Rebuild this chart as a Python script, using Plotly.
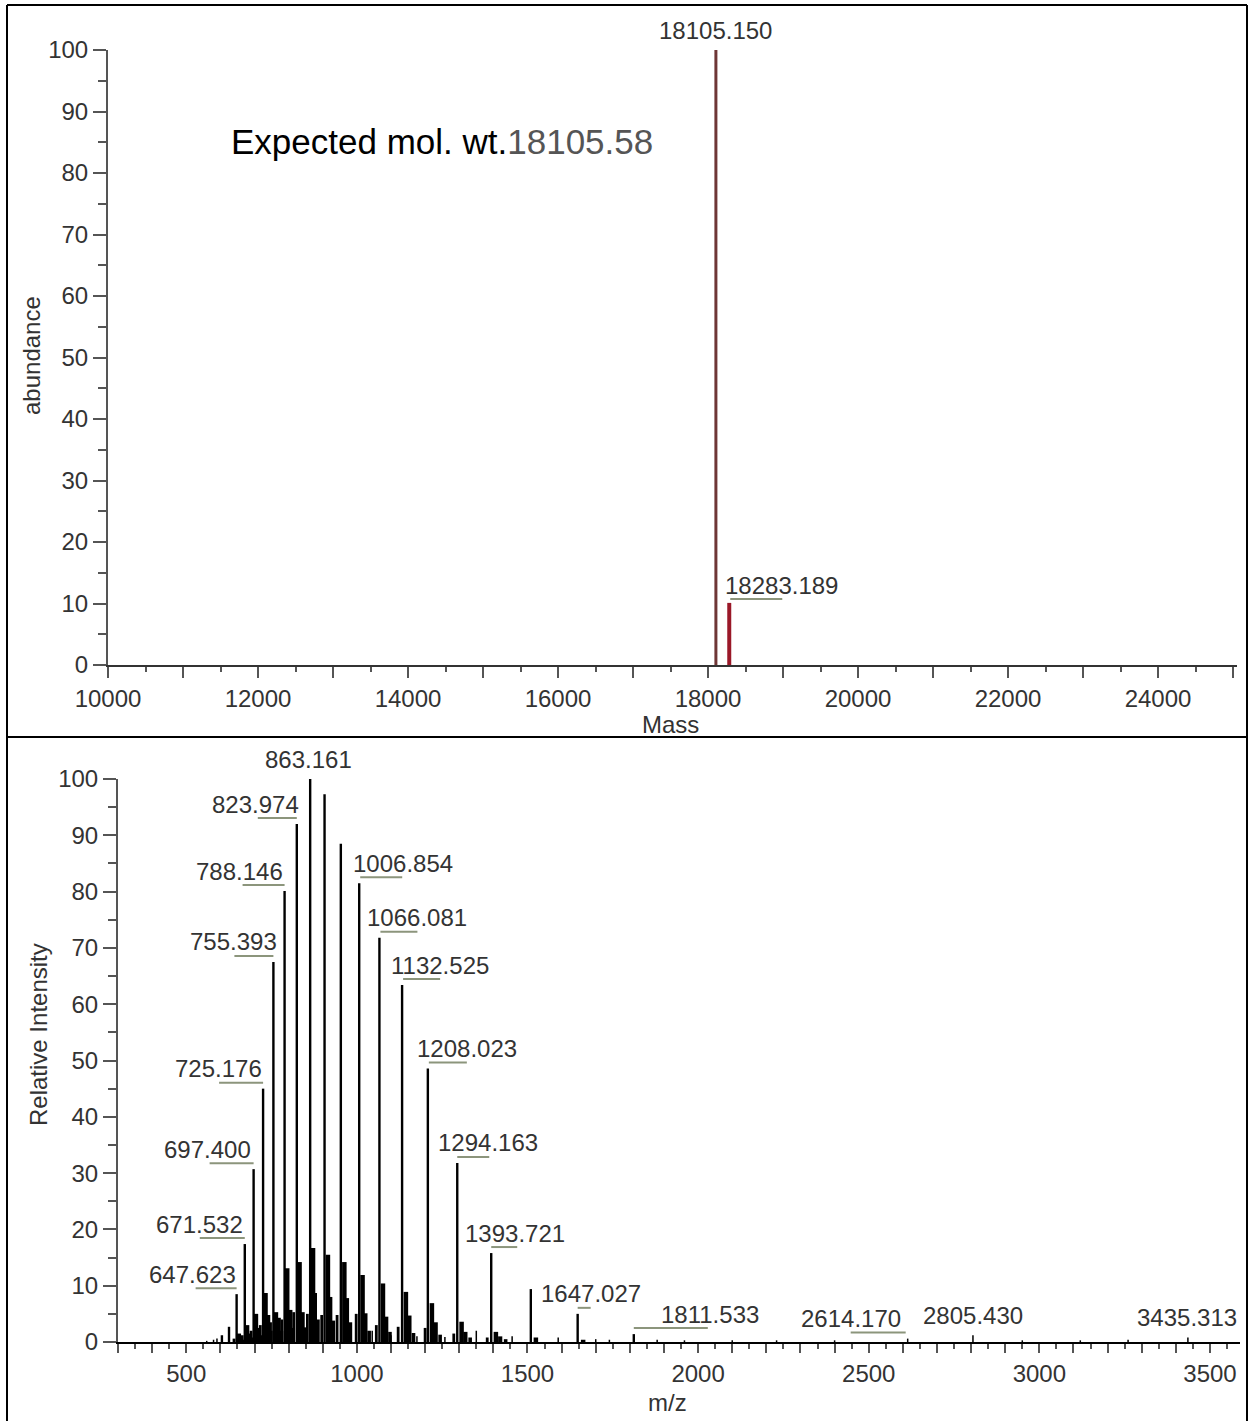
import plotly.graph_objects as go

W, H = 1249, 1421

# ---------------- data: top panel (deconvoluted mass) ----------------
mass_peaks = [18105.150, 18283.189]
mass_abund = [100.0, 10.1]
mass_labels = ["18105.150", "18283.189"]

top_xticks = [10000, 11000, 12000, 13000, 14000, 15000, 16000, 17000, 18000,
              19000, 20000, 21000, 22000, 23000, 24000, 25000]
top_xlabels = ["10000", "", "12000", "", "14000", "", "16000", "", "18000",
               "", "20000", "", "22000", "", "24000", ""]

# ---------------- data: bottom panel (m/z spectrum) ----------------
main_mz = [604.5, 625.3, 647.623, 671.532, 697.400, 725.176, 755.393, 788.146,
           823.974, 863.161, 905.3, 953.0, 1006.854, 1066.081, 1132.525,
           1208.023, 1294.163, 1393.721, 1509.8, 1647.027, 1811.533]
main_int = [1.2, 2.7, 8.5, 17.4, 30.7, 45.0, 67.5, 80.1,
            92.0, 100.0, 97.3, 88.5, 81.5, 71.8, 63.4,
            48.6, 31.8, 15.8, 9.4, 5.0, 1.4]

adduct1_mz = [654.0, 678.2, 704.2, 732.3, 762.8, 795.9, 832.1, 871.6, 915.2,
              963.3, 1016.7, 1076.5, 1143.7, 1219.9, 1306.9, 1407.4, 1524.6, 1663.1]
adduct1_int = [1.5, 3.0, 5.0, 8.7, 5.3, 13.1, 14.2, 16.7, 15.5,
               14.2, 11.9, 10.4, 8.9, 6.9, 3.6, 1.8, 0.8, 0.4]

adduct2_mz = [660.5, 685.0, 711.0, 740.0, 771.0, 805.0, 841.0, 877.0, 922.0,
              971.0, 1025.0, 1086.0, 1154.0, 1231.0, 1318.0, 1420.0]
adduct2_int = [0.8, 1.5, 2.5, 4.8, 4.3, 5.7, 5.3, 8.7, 8.0,
               7.8, 5.1, 4.5, 4.7, 3.5, 1.8, 1.0]

tail_mz = [667, 692, 719, 748, 779, 813, 850, 886, 931, 981, 1036, 1097,
           1166, 1244, 1332, 1436]
tail_int = [0.4, 0.8, 1.2, 2.0, 2.0, 2.5, 2.6, 4.0, 3.8, 3.5, 2.0, 1.8,
            1.6, 1.3, 0.8, 0.5]

pre_mz = [640, 664, 690, 717, 747, 780, 815, 855, 897, 942, 998, 1057,
          1121, 1200, 1284, 1382]
pre_int = [0.6, 1.2, 2.0, 3.0, 3.5, 4.0, 5.3, 5.0, 4.8, 4.8, 5.0, 3.0,
           2.7, 2.5, 1.5, 0.8]

minor_mz = [560, 580, 590, 1045, 1100, 1176, 1258, 1350, 1455, 1590, 1700,
            1740, 1880, 1960, 2100, 2230, 2400, 2614.170, 2805.430, 2950,
            3120, 3260, 3435.313]
minor_int = [0.2, 0.4, 0.6, 2.0, 1.2, 1.0, 0.9, 2.0, 1.0, 0.8, 0.5,
             0.4, 0.4, 0.3, 0.3, 0.3, 0.3, 0.6, 1.2, 0.3,
             0.3, 0.4, 0.8]

label_mz = [647.623, 671.532, 697.400, 725.176, 755.393, 788.146, 823.974,
            863.161, 1006.854, 1066.081, 1132.525, 1208.023, 1294.163,
            1393.721, 1647.027, 1811.533, 2614.170, 2805.430, 3435.313]

bottom_xticks = list(range(300, 3600, 100))
bottom_ytick = [0, 10, 20, 30, 40, 50, 60, 70, 80, 90, 100]

# ---------------- style ----------------
FONT = "Liberation Sans, Arial, Helvetica, sans-serif"
TXT = "#333333"
AX = "#555555"
LEADER = "#8c957c"

# label placement (pixel offsets): label centre dx, underline start/end (None = no underline)
LABEL_STYLE = {
    647.623: (-44, (-41, 0)), 671.532: (-45, (-45, 0)), 697.400: (-46, (-44, 0)),
    725.176: (-45, (-44, 0)), 755.393: (-40, (-39, 0)), 788.146: (-45, (-42, 0)),
    823.974: (-41, (-39, 0)), 863.161: (-2, None), 1006.854: (44, (1, 43)),
    1066.081: (38, (1, 38)), 1132.525: (38, (1, 38)), 1208.023: (39, (1, 39)),
    1294.163: (31, (0, 32)), 1393.721: (24, (0, 26)), 1647.027: (13, (0, 13)),
    1811.533: (76, (0, 74)), 2614.170: (-57, (-57, -2)), 2805.430: (0, None),
    3435.313: (-1, None),
}


def sticks(xs, ys):
    X, Y = [], []
    for x, y in zip(xs, ys):
        X += [x, x, None]
        Y += [0, y, None]
    return X, Y


def px(x):
    return x / W


def py(y):
    return 1 - y / H


fig = go.Figure()

# top panel peaks
top_colors = ["#6e3636", "#9a1828"]
top_widths = [3, 4]
for m, a, c, w in zip(mass_peaks, mass_abund, top_colors, top_widths):
    X, Y = sticks([m], [a])
    fig.add_trace(go.Scatter(x=X, y=Y, mode="lines", line=dict(color=c, width=w),
                             xaxis="x", yaxis="y", showlegend=False, hoverinfo="skip"))

# bottom panel sticks
for xs, ys, w in [(minor_mz, minor_int, 1.5), (tail_mz, tail_int, 3.6),
                  (pre_mz, pre_int, 2.8), (adduct2_mz, adduct2_int, 4.2),
                  (adduct1_mz, adduct1_int, 4.5), (main_mz, main_int, 2.4)]:
    X, Y = sticks(xs, ys)
    fig.add_trace(go.Scatter(x=X, y=Y, mode="lines", line=dict(color="black", width=w),
                             xaxis="x2", yaxis="y2", showlegend=False, hoverinfo="skip"))

annotations = []
shapes = []

# top peak labels
annotations.append(dict(x=mass_peaks[0], y=mass_abund[0], xref="x", yref="y",
                        text=mass_labels[0], showarrow=False, xanchor="center",
                        yanchor="middle", yshift=20, font=dict(family=FONT, size=24, color=TXT)))
annotations.append(dict(x=mass_peaks[1], y=mass_abund[1], xref="x", yref="y",
                        text=mass_labels[1], showarrow=False, xanchor="center",
                        yanchor="middle", xshift=52, yshift=17, font=dict(family=FONT, size=24, color=TXT)))
shapes.append(dict(type="line", xref="x", yref="y", xsizemode="pixel", ysizemode="pixel",
                   xanchor=mass_peaks[1], yanchor=mass_abund[1], x0=1, x1=53, y0=4, y1=4,
                   line=dict(color=LEADER, width=2)))

# bottom peak labels
all_mz = main_mz + minor_mz
all_int = main_int + minor_int
for v in label_mz:
    h = all_int[all_mz.index(v)]
    dx, ul = LABEL_STYLE[v]
    annotations.append(dict(x=v, y=h, xref="x2", yref="y2", text=f"{v:.3f}",
                            showarrow=False, xanchor="center", yanchor="middle",
                            xshift=dx, yshift=20,
                            font=dict(family=FONT, size=24, color=TXT)))
    if ul is not None:
        shapes.append(dict(type="line", xref="x2", yref="y2", xsizemode="pixel",
                           ysizemode="pixel", xanchor=v, yanchor=h, x0=ul[0], x1=ul[1],
                           y0=6, y1=6, line=dict(color=LEADER, width=2)))

# expected mol. wt.
annotations.append(dict(x=px(229), y=py(142), xref="paper", yref="paper",
                        text='Expected mol. wt.<span style="color:#555555">18105.58</span>',
                        showarrow=False, xanchor="left", yanchor="middle",
                        font=dict(family=FONT, size=35, color="black")))

# axis titles
title_font = dict(family=FONT, size=24, color=TXT)
annotations += [
    dict(x=px(32), y=py(355), xref="paper", yref="paper", text="abundance", textangle=-90,
         xanchor="center", yanchor="middle", showarrow=False, font=title_font),
    dict(x=px(670), y=py(724), xref="paper", yref="paper", text="Mass",
         xanchor="center", yanchor="middle", showarrow=False, font=title_font),
    dict(x=px(38), y=py(1035), xref="paper", yref="paper", text="Relative Intensity",
         textangle=-90, xanchor="center", yanchor="middle", showarrow=False, font=title_font),
    dict(x=px(668), y=py(1402), xref="paper", yref="paper", text="m/z",
         xanchor="center", yanchor="middle", showarrow=False, font=title_font),
]

# panel borders
border = dict(color="black", width=2)
shapes += [
    dict(type="line", xref="paper", yref="paper", x0=px(7), x1=px(1247), y0=py(5), y1=py(5), line=border),
    dict(type="line", xref="paper", yref="paper", x0=px(7), x1=px(7), y0=py(5), y1=py(1421), line=border),
    dict(type="line", xref="paper", yref="paper", x0=px(1247), x1=px(1247), y0=py(5), y1=py(1421), line=border),
    dict(type="line", xref="paper", yref="paper", x0=px(7), x1=px(1247), y0=py(737), y1=py(737), line=border),
]

tickfont = dict(family=FONT, size=24, color=TXT)
yax_common = dict(range=[0, 100], tickvals=bottom_ytick, showgrid=False, zeroline=False,
                  automargin=False,
                  showline=True, linecolor=AX, linewidth=2, ticks="outside", ticklen=13,
                  tickwidth=2, tickcolor=AX, tickfont=tickfont,
                  minor=dict(ticks="outside", dtick=5, ticklen=8, tickwidth=2, tickcolor=AX))

fig.update_layout(
    template="none",
    width=W, height=H, margin=dict(l=0, r=0, t=0, b=0, pad=0), autosize=False,
    paper_bgcolor="white", plot_bgcolor="white", showlegend=False,
    xaxis=dict(domain=[px(108), px(1237)], range=[10000, 25053], anchor="y",
               automargin=False,
               tickvals=top_xticks, ticktext=top_xlabels, showgrid=False, zeroline=False,
               showline=True, linecolor="#333333", linewidth=2, ticks="outside", ticklen=11,
               tickwidth=2, tickcolor=AX, tickfont=tickfont,
               minor=dict(ticks="outside", tickvals=[v + 500 for v in top_xticks],
                          ticklen=5, tickwidth=2, tickcolor=AX)),
    yaxis=dict(domain=[py(665), py(50)], anchor="x", **yax_common),
    xaxis2=dict(domain=[px(118), px(1240)], range=[300, 3588], anchor="y2",
                automargin=False,
                tickvals=bottom_xticks,
                ticktext=[str(v) if v % 500 == 0 else "" for v in bottom_xticks],
                showgrid=False, zeroline=False, showline=True, linecolor="black", linewidth=2,
                ticks="outside", ticklen=9, tickwidth=2, tickcolor=AX, tickfont=tickfont,
                minor=dict(ticks="outside", tickvals=[v + 50 for v in bottom_xticks],
                           ticklen=5, tickwidth=2, tickcolor=AX)),
    yaxis2=dict(domain=[py(1342), py(779)], anchor="x2", **yax_common),
    annotations=annotations,
    shapes=shapes,
)

fig.write_html(
    "out.html",
    config={"displayModeBar": False, "responsive": False},
    post_script=("document.body.style.margin='0px';document.body.style.padding='0px';"
                 "document.documentElement.style.overflow='hidden';"),
)
